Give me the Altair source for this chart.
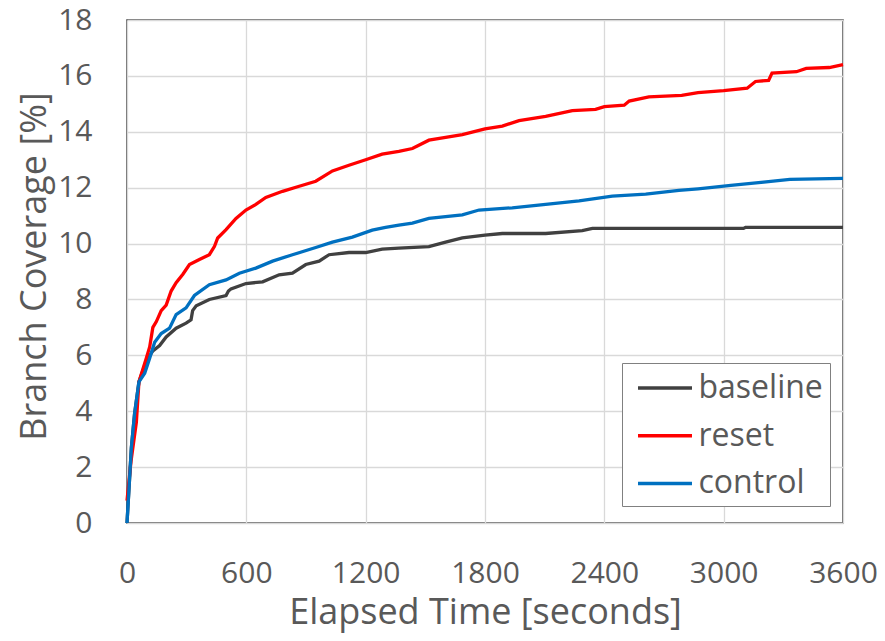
import altair as alt
import pandas as pd

series_names = ["baseline", "reset", "control"]
series_colors = ["#404040", "#FF0000", "#0070C0"]

baseline_t = [0, 22, 38, 60, 97, 130, 164, 197, 247, 297, 322, 330, 348, 414, 498, 510, 523, 598, 682, 765, 832, 899, 966, 1016, 1116, 1200, 1283, 1367, 1518, 1602, 1686, 1800, 1887, 2105, 2289, 2340, 2775, 3100, 3110, 3600]
baseline_v = [0, 2.7, 3.9, 5.05, 5.8, 6.16, 6.35, 6.66, 6.97, 7.15, 7.27, 7.6, 7.77, 8.0, 8.14, 8.3, 8.38, 8.57, 8.63, 8.88, 8.94, 9.25, 9.37, 9.6, 9.68, 9.68, 9.8, 9.84, 9.89, 10.05, 10.2, 10.3, 10.36, 10.36, 10.46, 10.54, 10.54, 10.54, 10.58, 10.58]

reset_t = [0, 20, 47, 60, 97, 114, 130, 147, 172, 197, 222, 247, 281, 314, 364, 414, 440, 456, 498, 548, 598, 648, 698, 782, 866, 949, 1033, 1116, 1200, 1283, 1367, 1435, 1518, 1602, 1686, 1800, 1887, 1971, 2105, 2239, 2356, 2400, 2500, 2525, 2624, 2789, 2871, 3000, 3118, 3160, 3226, 3243, 3366, 3415, 3531, 3600]
reset_v = [0.8, 2.2, 3.6, 5.05, 5.9, 6.3, 7.0, 7.2, 7.6, 7.8, 8.3, 8.6, 8.9, 9.25, 9.43, 9.6, 9.9, 10.2, 10.5, 10.9, 11.2, 11.4, 11.65, 11.87, 12.05, 12.23, 12.6, 12.8, 13.0, 13.2, 13.3, 13.4, 13.7, 13.8, 13.9, 14.1, 14.2, 14.4, 14.55, 14.76, 14.8, 14.9, 14.95, 15.1, 15.25, 15.3, 15.4, 15.47, 15.56, 15.8, 15.84, 16.1, 16.15, 16.27, 16.3, 16.4]

control_t = [0, 22, 38, 60, 89, 114, 139, 172, 214, 247, 297, 339, 414, 498, 565, 648, 732, 832, 949, 1033, 1133, 1233, 1300, 1367, 1435, 1518, 1686, 1770, 1937, 2105, 2273, 2440, 2608, 2775, 2871, 3036, 3201, 3333, 3600]
control_v = [0, 2.7, 3.9, 5.05, 5.36, 5.9, 6.47, 6.78, 6.97, 7.46, 7.7, 8.14, 8.53, 8.7, 8.94, 9.12, 9.37, 9.6, 9.86, 10.05, 10.23, 10.48, 10.58, 10.66, 10.73, 10.9, 11.03, 11.2, 11.28, 11.4, 11.53, 11.7, 11.77, 11.9, 11.96, 12.08, 12.2, 12.3, 12.33]

x_ticks = [0, 600, 1200, 1800, 2400, 3000, 3600]
y_ticks = [0, 2, 4, 6, 8, 10, 12, 14, 16, 18]

rows = []
for name, ts, vs in [("baseline", baseline_t, baseline_v), ("reset", reset_t, reset_v), ("control", control_t, control_v)]:
    for i, (t, v) in enumerate(zip(ts, vs)):
        rows.append({"series": name, "t": t, "v": v, "i": i})
df = pd.DataFrame(rows)

FONT = "Open Sans"
TXT = "#595959"

chart = alt.Chart(df).mark_line(strokeWidth=3.3).encode(
    x=alt.X("t:Q", scale=alt.Scale(domain=[0, 3600], nice=False),
            axis=alt.Axis(values=x_ticks, format="d", title="Elapsed Time [seconds]", labelPadding=35,
                          titleY=100, titleBaseline="alphabetic", labelFlush=False)),
    y=alt.Y("v:Q", scale=alt.Scale(domain=[0, 18], nice=False),
            axis=alt.Axis(values=y_ticks, format="d", title="Branch Coverage [%]", labelPadding=35,
                          titleX=-82, titleY=246, titleAngle=-90, titleAlign="center",
                          titleBaseline="alphabetic")),
    color=alt.Color("series:N", scale=alt.Scale(domain=series_names, range=series_colors),
                    legend=alt.Legend(title=None, orient="none", legendX=495, legendY=343,
                                      symbolType="M-0.545,0H2.727", symbolSize=1089, symbolStrokeWidth=3.5,
                                      labelFontSize=32, labelColor=TXT, labelFont=FONT,
                                      strokeColor="#808080", fillColor="white", padding=6.5,
                                      labelOffset=33, rowPadding=12.7)),
    order="i:Q",
).properties(
    width=716, height=503,
    autosize=alt.AutoSizeParams(type="none"),
    padding={"left": 119, "top": 12, "right": 34, "bottom": 110},
).configure_view(
    stroke="#404040", strokeWidth=1.5
).configure_axis(
    domain=False, ticks=False, grid=True, gridColor="#d9d9d9", gridWidth=1.3,
    labelFont=FONT, labelFontSize=30, labelColor=TXT,
    titleFont=FONT, titleFontSize=36, titleColor=TXT, titleFontWeight="normal"
)

chart.save("out.html", embed_options={"renderer": "svg", "actions": False})
